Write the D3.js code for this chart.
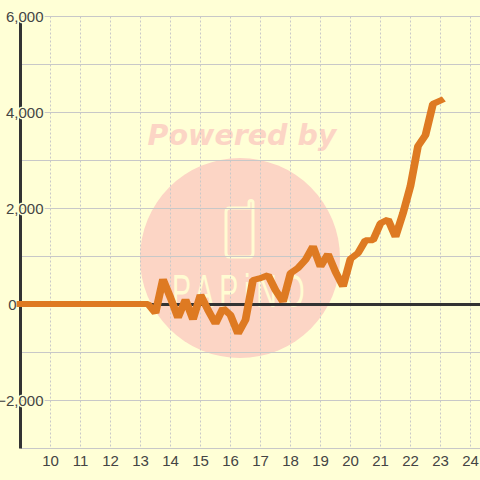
<!DOCTYPE html>
<html>
<head>
<meta charset="utf-8">
<script src="https://cdn.jsdelivr.net/npm/d3@7"></script>
<style>
  html, body { margin: 0; padding: 0; background: #ffffd6; }
  svg { display: block; font-family: "Liberation Sans", Arial, sans-serif; }
</style>
</head>
<body>
<div id="chart"></div>
<script>
// Chart data
const years = [9, 9.25, 9.5, 9.75, 10, 10.25, 10.5, 10.75, 11, 11.25, 11.5, 11.75, 12, 12.25, 12.5, 12.75, 13, 13.25,
  13.5, 13.75, 14, 14.25, 14.5, 14.75, 15, 15.25, 15.5, 15.75, 16, 16.25, 16.5, 16.75, 17, 17.25, 17.5, 17.75,
  18, 18.25, 18.5, 18.75, 19, 19.25, 19.5, 19.75, 20, 20.25, 20.5, 20.75, 21, 21.25, 21.5, 21.75, 22, 22.25,
  22.5, 22.75, 23];
const values = [0, 0, 0, 0, 0, 0, 0, 0, 0, 0, 0, 0, 0, 0, 0, 0, 0, 0,
  -190, 515, 130, -285, 90, -320, 190, -125, -410, -90, -230, -615, -330, 500,
  540, 600, 290, 50, 640, 750, 920, 1200, 780, 1040, 670, 365, 940, 1060, 1330, 1330,
  1680, 1760, 1400, 1890, 2460, 3290, 3520, 4170, 4240];
const xTicks = [10, 11, 12, 13, 14, 15, 16, 17, 18, 19, 20, 21, 22, 23, 24];
const yTicks = [-2000, 2000, 4000, 6000];
const yGridTicks = [-3000, -2000, -1000, 0, 1000, 2000, 3000, 4000, 5000, 6000];

const WIDTH = 480, HEIGHT = 480;
const MARGIN = {top: 16.5, right: 0, bottom: 31.5, left: 20.5};
const BG = '#ffffd6';
const WM_PINK = '#fcd5c5', WM_CREAM = '#fffbd2';
const TEXT_COLOR = '#444444';
const LINE_STRETCH = 1.3; // the series stroke is wider on steep parts than on flat ones

const svg = d3.select('#chart').append('svg')
  .attr('width', WIDTH)
  .attr('height', HEIGHT);

svg.append('rect').attr('width', WIDTH).attr('height', HEIGHT).attr('fill', BG);

// x: 30px per year, y: 48px per 1000
const x = d3.scaleLinear().domain([9, 24.33]).range([MARGIN.left, 480.4]);
const y = d3.scaleLinear().domain([-3000, 6000]).range([HEIGHT - MARGIN.bottom, MARGIN.top]);

// watermark sits under the grid
const wm = svg.append('g').attr('class', 'watermark');
wm.append('circle').attr('cx', 240).attr('cy', 258).attr('r', 100).attr('fill', WM_PINK);
wm.append('text')
  .attr('x', 242).attr('y', 145)
  .attr('text-anchor', 'middle')
  .attr('fill', WM_PINK)
  .style('font-family', '"DejaVu Sans", sans-serif')
  .style('font-weight', 'bold')
  .style('font-style', 'italic')
  .style('font-size', '28.5px')
  .text('Powered by');
wm.append('path')
  .attr('d', 'M230 208H249V202.5Q249 200.5 251 200.5Q253 200.5 253 202.5V253Q253 257 249 257H230Q226 257 226 253V212Q226 208 230 208Z')
  .attr('fill', 'none')
  .attr('stroke', WM_CREAM)
  .attr('stroke-width', 3);
wm.append('text')
  .attr('transform', 'translate(172,307) scale(0.62,1)')
  .attr('fill', WM_CREAM)
  .attr('textLength', 214)
  .attr('lengthAdjust', 'spacing')
  .style('font-size', '46px')
  .text('PAPiNO');

// grid
const grid = svg.append('g').attr('class', 'grid');
grid.selectAll('.ygrid').data(yGridTicks).enter().append('line')
  .attr('class', 'ygrid')
  .attr('x1', MARGIN.left).attr('x2', WIDTH)
  .attr('y1', d => y(d)).attr('y2', d => y(d))
  .attr('stroke', '#c8c8c8').attr('stroke-width', 1);
grid.selectAll('.xgrid').data(xTicks).enter().append('line')
  .attr('class', 'xgrid')
  .attr('x1', d => x(d)).attr('x2', d => x(d))
  .attr('y1', MARGIN.top).attr('y2', y(-3000))
  .attr('stroke', '#c8c8c8').attr('stroke-width', 1).attr('stroke-dasharray', '2,2');

// zero line and left axis line
svg.append('line')
  .attr('x1', MARGIN.left).attr('x2', WIDTH)
  .attr('y1', y(0)).attr('y2', y(0))
  .attr('stroke', '#333333').attr('stroke-width', 3);
svg.append('line')
  .attr('x1', x(9)).attr('x2', x(9))
  .attr('y1', MARGIN.top).attr('y2', y(-3000))
  .attr('stroke', '#333333').attr('stroke-width', 3);

// labels
svg.selectAll('.ylabel').data(yTicks).enter().append('text')
  .attr('class', 'ylabel')
  .attr('x', 43.5).attr('y', d => y(d) + 5.5)
  .attr('text-anchor', 'end')
  .attr('fill', TEXT_COLOR)
  .attr('stroke', BG).attr('stroke-width', 3).attr('paint-order', 'stroke')
  .style('font-size', '15px')
  .text(d => d3.format(',')(d));
// the 0 sits left of the axis, not with the others
svg.append('text')
  .attr('class', 'ylabel')
  .attr('x', 16.5).attr('y', y(0) + 5.5)
  .attr('text-anchor', 'end')
  .attr('fill', TEXT_COLOR)
  .style('font-size', '15px')
  .text('0');
svg.selectAll('.xlabel').data(xTicks).enter().append('text')
  .attr('class', 'xlabel')
  .attr('x', d => x(d)).attr('y', 466)
  .attr('text-anchor', 'middle')
  .attr('fill', TEXT_COLOR)
  .style('font-size', '15px')
  .text(d => d);

// series
const line = d3.line().x((d, i) => x(years[i]) / LINE_STRETCH).y(d => y(d));
svg.append('path')
  .datum(values)
  .attr('d', line)
  .attr('transform', 'translate(0,-0.5) scale(' + LINE_STRETCH + ',1)')
  .attr('fill', 'none')
  .attr('stroke', '#de7a22')
  .attr('stroke-width', 6)
  .attr('stroke-linecap', 'square')
  .attr('stroke-linejoin', 'bevel');
</script>
</body>
</html>
